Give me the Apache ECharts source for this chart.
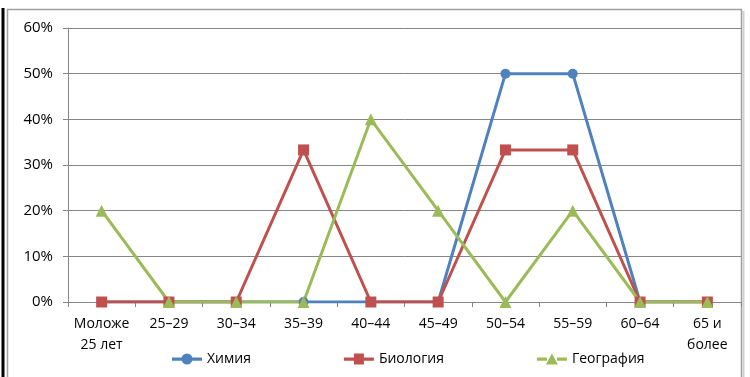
<!DOCTYPE html>
<html><head><meta charset="utf-8">
<script src="https://cdn.jsdelivr.net/npm/echarts@6/dist/echarts.min.js"></script>
<style>html,body{margin:0;padding:0;background:#fff}#c{width:750px;height:377px}</style>
</head><body><div id="c"></div>
<script>
const categories = ['Моложе\n25 лет','25–29','30–34','35–39','40–44','45–49','50–54','55–59','60–64','65 и\nболее'];
const chemistry = [0,0,0,0,0,0,50,50,0,0];
const biology = [0,0,0,33.3,0,0,33.3,33.3,0,0];
const geography = [20,0,0,0,40,20,0,20,0,0];
const seriesNames = ['Химия','Биология','География'];
const yTicks = [0,10,20,30,40,50,60];

const chart = echarts.init(document.getElementById('c'));
const font = '"Open Sans", "Noto Sans", sans-serif';
function mk(name, data, color, symbol, size){
  return {name, type:'line', data, symbol, symbolSize:size, showSymbol:true,
    lineStyle:{color, width:3}, itemStyle:{color}, animation:false};
}
const bars = 'M0 4H10V7.2H0Z M20 4H30V7.2H20Z ';
const icons = [
  'path://' + bars + 'M9.5 5.5A5.5 5.5 0 1 1 20.5 5.5A5.5 5.5 0 1 1 9.5 5.5Z',
  'path://' + bars + 'M10 0H20V11H10Z',
  'path://' + bars + 'M15 0L21 11H9Z'
];
chart.setOption({
  animation:false,
  graphic:[
    {type:'rect', shape:{x:7.5,y:9.5,width:734,height:380}, style:{fill:'none', stroke:'#a0a0a0', lineWidth:1.5}},
    {type:'line', shape:{x1:743.5,y1:11,x2:743.5,y2:377}, style:{stroke:'#d0d0d0', lineWidth:2}},
    {type:'line', shape:{x1:3,y1:8,x2:3,y2:377}, style:{stroke:'#000', lineWidth:3}}
  ],
  grid:{left:68, right:9, top:28, bottom:75},
  xAxis:{type:'category', data:categories, boundaryGap:true,
    axisLine:{lineStyle:{color:'#868686', width:1}},
    axisTick:{show:true, length:5, lineStyle:{color:'#868686'}},
    axisLabel:{color:'#000', fontFamily:font, fontSize:14, lineHeight:21, margin:12, interval:0}},
  yAxis:{type:'value', min:0, max:60, interval:10,
    axisLine:{show:true, lineStyle:{color:'#868686'}},
    axisTick:{show:true, length:5, lineStyle:{color:'#868686'}},
    splitLine:{lineStyle:{color:'#868686', width:1}},
    axisLabel:{color:'#000', fontFamily:font, fontSize:15, margin:15,
      formatter: v => yTicks.includes(v) ? v + '%' : ''}},
  legend:{left:167, top:347, itemGap:93, itemWidth:30, itemHeight:11,
    data:seriesNames.map((n,i)=>({name:n, icon:icons[i]})),
    textStyle:{color:'#000', fontFamily:font, fontSize:14}},
  series:[
    mk(seriesNames[0], chemistry, '#4F81BD', 'circle', 10),
    mk(seriesNames[1], biology, '#C0504D', 'rect', 11),
    mk(seriesNames[2], geography, '#9BBB59', 'triangle', 12)
  ]
});
</script></body></html>
